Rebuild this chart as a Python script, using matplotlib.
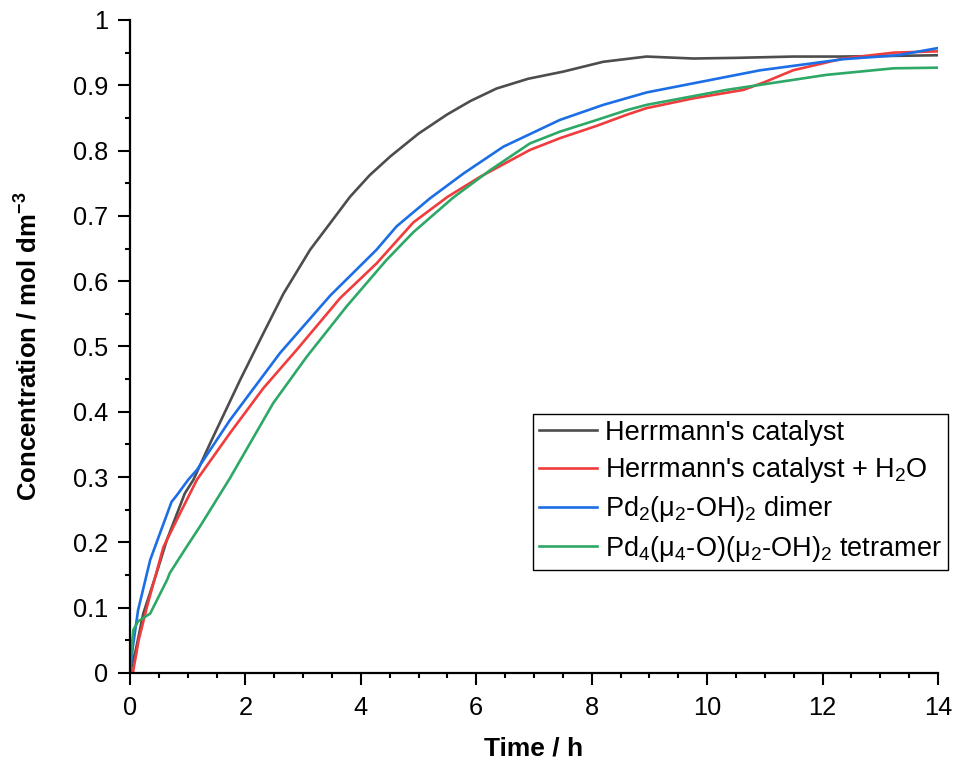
import numpy as np
import matplotlib
matplotlib.use('Agg')
import matplotlib.pyplot as plt
from matplotlib.ticker import MultipleLocator

# fonts: arial-like everywhere, also in the sub/superscripts
plt.rcParams['font.family'] = ['Liberation Sans', 'DejaVu Sans']
plt.rcParams['mathtext.fontset'] = 'custom'
plt.rcParams['mathtext.rm'] = 'Liberation Sans'
plt.rcParams['mathtext.it'] = 'Liberation Sans:italic'
plt.rcParams['mathtext.bf'] = 'Liberation Sans:bold'

# data (time in h, concentration in mol dm-3)
t_herr = [0.0, 0.1, 0.23, 0.45, 0.64, 0.95, 1.10, 1.39, 1.91, 2.31, 2.66,
          3.12, 3.47, 3.81, 4.15, 4.51, 5.0, 5.49, 5.9, 6.35, 6.9, 7.51,
          8.20, 8.95, 9.76, 10.5, 11.49, 12.3, 13.23, 14.0]
c_herr = [0.0, 0.035, 0.091, 0.15, 0.204, 0.275, 0.296, 0.352, 0.449, 0.52,
          0.581, 0.648, 0.689, 0.729, 0.762, 0.791, 0.826, 0.855, 0.876,
          0.895, 0.910, 0.921, 0.936, 0.944, 0.941, 0.942, 0.944, 0.944,
          0.945, 0.946]

t_water = [0.05, 0.15, 0.29, 0.58, 0.87, 1.16, 1.73, 2.31, 2.89, 3.47, 3.64,
           4.27, 4.91, 5.5, 6.07, 6.93, 7.45, 8.09, 8.61, 8.95, 9.76, 10.63,
           11.0, 11.49, 12.36, 13.23, 14.0]
c_water = [0.0, 0.05, 0.10, 0.193, 0.245, 0.296, 0.367, 0.436, 0.495, 0.556,
           0.574, 0.627, 0.69, 0.729, 0.760, 0.801, 0.819, 0.838, 0.855,
           0.865, 0.880, 0.893, 0.905, 0.923, 0.941, 0.950, 0.952]

t_dimer = [0.0, 0.05, 0.14, 0.35, 0.52, 0.72, 0.81, 1.01, 1.16, 1.73, 2.60,
           3.47, 4.27, 4.62, 5.2, 5.78, 6.47, 7.45, 8.2, 8.95, 9.18, 10.92,
           12.36, 13.3, 14.0]
c_dimer = [0.0, 0.04, 0.096, 0.173, 0.214, 0.262, 0.272, 0.296, 0.311,
           0.387, 0.49, 0.578, 0.648, 0.684, 0.727, 0.765, 0.806, 0.847,
           0.870, 0.889, 0.893, 0.923, 0.940, 0.946, 0.957]

t_tetra = [0.0, 0.03, 0.06, 0.14, 0.35, 0.64, 0.69, 0.98, 1.21, 1.73, 2.48,
           3.06, 3.75, 4.44, 4.91, 5.6, 6.24, 6.93, 7.45, 8.09, 8.61, 8.95,
           10.34, 12.07, 13.23, 14.0]
c_tetra = [0.0, 0.04, 0.066, 0.079, 0.091, 0.142, 0.153, 0.193, 0.224,
           0.298, 0.413, 0.484, 0.561, 0.632, 0.675, 0.728, 0.770, 0.811,
           0.829, 0.847, 0.862, 0.870, 0.893, 0.916, 0.926, 0.927]

labels = ["Herrmann's catalyst",
          r"Herrmann's catalyst + H$_\mathregular{2}$O",
          r"Pd$_\mathregular{2}$(μ$_\mathregular{2}$-OH)$_\mathregular{2}$ dimer",
          r"Pd$_\mathregular{4}$(μ$_\mathregular{4}$-O)(μ$_\mathregular{2}$-OH)$_\mathregular{2}$ tetramer"]
colors = ['#4d4d4d', '#f03c3c', '#1c6ee6', '#2ea866']

fig = plt.figure(figsize=(9.55, 7.63), dpi=100)
ax = fig.add_axes([0.1361, 0.118, 0.8461, 0.8558])

series = [(t_herr, c_herr), (t_water, c_water), (t_dimer, c_dimer),
          (t_tetra, c_tetra)]
for (t, c), lab, col in zip(series, labels, colors):
    ax.plot(t, c, color=col, lw=1.9, label=lab)

ax.set_xlim(0, 14)
ax.set_ylim(0, 1)
ax.xaxis.set_major_locator(MultipleLocator(2))
ax.xaxis.set_minor_locator(MultipleLocator(0.5))
ax.yaxis.set_major_locator(MultipleLocator(0.1))
ax.yaxis.set_minor_locator(MultipleLocator(0.05))
ax.yaxis.set_major_formatter(plt.FuncFormatter(lambda v, p: '%g' % round(v, 2)))

# origin style axes: only left and bottom, ticks outwards
for side in ['top', 'right']:
    ax.spines[side].set_visible(False)
for side in ['left', 'bottom']:
    ax.spines[side].set_linewidth(1.6)
ax.tick_params(which='major', direction='out', length=8.5, width=1.5,
               labelsize=18.3)
ax.tick_params(axis='y', which='major', pad=7)
ax.tick_params(axis='x', which='major', pad=8)
ax.tick_params(which='minor', direction='out', length=3.8, width=1.5)

ax.set_xlabel('Time / h', fontsize=19, fontweight='bold', labelpad=12)
ax.set_ylabel(r'Concentration / mol dm$^\mathbf{-3}$', fontsize=18.5,
              fontweight='bold', labelpad=22)

leg = ax.legend(loc='upper left', bbox_to_anchor=(0.5578, 0.4574),
                bbox_transform=fig.transFigure, borderaxespad=0,
                fontsize=19.5, frameon=True, fancybox=False, framealpha=1,
                edgecolor='black', handlelength=2.15, handletextpad=0.3,
                labelspacing=0.34, borderpad=0.22)
leg.get_frame().set_linewidth(1.0)

fig.savefig('out.png', dpi=100)
